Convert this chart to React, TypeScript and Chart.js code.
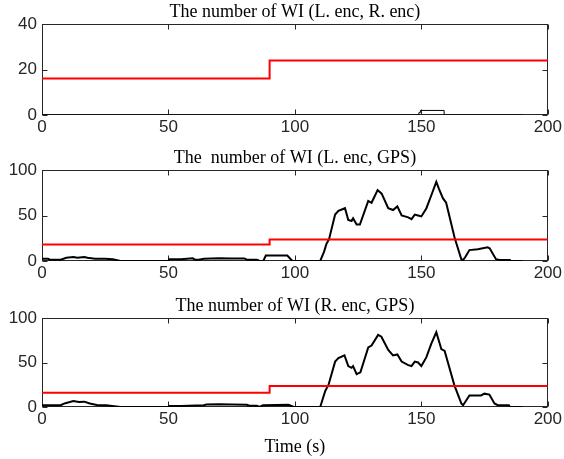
import React, { useEffect, useRef } from 'react';
import { Chart, registerables } from 'chart.js';

Chart.register(...registerables);

// ---------- data ----------
const xTickStep = 50;
const timeMax = 200;

// thresholds (red, stepped)
const thrTime = [0, 90, 200];
const thrLR = [16, 24, 24];
const thrLG = [18, 23.5, 23.5];
const thrRG = [16, 23.5, 23.5];

// number of WI (L. enc, R. enc)
const lrTime = [0, 149, 149.6, 159, 190];
const lrWI = [0, 1, 2, 0, 0];

// number of WI (L. enc, GPS)
const lgTime = [
  0, 2.4, 3, 7.4, 9.6, 12.4, 14, 16.7, 18, 21, 25, 28, 31, 50, 50.3, 55, 59.6, 60.5, 62, 64, 70, 75, 80, 81, 85, 86, 87.5,
  88.5, 97, 99, 110, 111.5, 112.5, 113.5, 115.9, 117.2, 119.8, 121.1, 122.4, 123, 124.4, 125.7, 129, 130.3, 132.7,
  134.3, 136.9, 138.8, 140.5, 142.2, 144.8, 146.1, 147.4, 148.7, 150, 152, 153.9, 155.9, 157, 158.5, 159.8, 163.1,
  165.8, 166.5, 167.5, 169, 172.3, 176.2, 177, 179.5, 181, 185, 185.5, 190,
];
const lgWI = [
  2.5, 2.5, 1.5, 1.5, 3.5, 4.4, 3.6, 4.4, 3.5, 2.5, 2.5, 2, 0, 0, 2, 2, 3, 1.5, 1.5, 2.5, 3, 2.8, 2.8, 1.5, 1.5, 0, 0,
  6, 6, 0, 0, 10, 19, 24, 51, 55, 58, 45, 44, 47, 40, 40, 66, 64, 78,
  74, 58, 56, 60, 50, 48, 46, 51, 50, 49, 58, 72, 87, 79, 69, 64, 26,
  2, 1, 5, 12, 13, 15, 14, 2, 1, 1, 0, 0,
];

// number of WI (R. enc, GPS)
const rgTime = [
  0, 7.4, 8.9, 12.4, 14.6, 16.7, 18.9, 21.7, 25.3, 31, 50, 50.3, 55, 58, 64, 65, 70, 75, 81, 82, 85, 86, 87.4, 97.4,
  99.6, 110, 112, 113.3, 115.9, 117.2, 119.6, 121.1, 122.4, 123, 124.4, 125.9, 129, 130.3, 132.9, 134.2, 136.9, 138.8,
  140.5, 142.2, 144.8, 146.1, 147.4, 148.7, 150, 152, 153.9, 155.9, 157.9, 159.2, 163.1, 165.8, 166.5, 169, 173.6,
  174.9, 176.9, 178.9, 180.2, 184.6, 185, 190,
];
const rgWI = [
  2, 2, 4, 6.8, 5.7, 6, 4, 2.3, 2, 0, 0, 1, 1, 1.5, 2, 2.8, 3, 2.8, 2.5, 1.5, 1.5, 0, 2, 2.5,
  0, 0, 18, 25, 51, 55, 58, 46, 44, 46, 37, 39, 67, 69, 81, 79, 64, 58,
  59, 51, 47, 46, 51, 50, 46, 56, 71, 84, 65, 63, 24, 4, 2, 13, 13,
  15, 14, 4, 2, 2, 0, 0,
];

const titles = [
  'The number of WI (L. enc, R. enc)',
  'The  number of WI (L. enc, GPS)',
  'The number of WI (R. enc, GPS)',
];
const yMaxes = [40, 100, 100];
const ySteps = [20, 50, 50];
const xAxisTitle = 'Time (s)';

// ---------- layout ----------
const W = 564;
const TITLE_H = 24;
const PLOT_LEFT = 42;
const PLOT_RIGHT = 549;
const plotTops = [24, 170, 318];
const plotBottoms = [115, 261, 407];
const xAxisH = [31, 31, 52];

const pts = (t: number[], v: number[]) => t.map((x, i) => ({ x, y: v[i] }));

const boxPlugin = {
  id: 'matlabBox',
  beforeDatasetsDraw(chart: any) {
    const { ctx, chartArea: a, scales } = chart;
    const L = Math.round(a.left) + 0.5;
    const R = Math.round(a.right) - 0.5;
    const T = Math.round(a.top) + 0.5;
    const B = Math.round(a.bottom) - 0.5;
    ctx.save();
    ctx.strokeStyle = '#262626';
    ctx.lineWidth = 1;
    ctx.strokeRect(L, T, R - L, B - T);
    const tl = 5;
    ctx.beginPath();
    for (const t of scales.x.ticks) {
      const px = Math.round(scales.x.getPixelForValue(t.value)) + 0.5;
      ctx.moveTo(px, B);
      ctx.lineTo(px, B - tl);
      ctx.moveTo(px, T);
      ctx.lineTo(px, T + tl);
    }
    for (const t of scales.y.ticks) {
      const py = Math.round(scales.y.getPixelForValue(t.value)) + 0.5;
      ctx.moveTo(L, py);
      ctx.lineTo(L + tl, py);
      ctx.moveTo(R, py);
      ctx.lineTo(R - tl, py);
    }
    ctx.stroke();
    ctx.restore();
  },
};

const blackSeries = [pts(lrTime, lrWI), pts(lgTime, lgWI), pts(rgTime, rgWI)];
const redSeries = [pts(thrTime, thrLR), pts(thrTime, thrLG), pts(thrTime, thrRG)];

export default function App() {
  const refs = [useRef<HTMLCanvasElement>(null), useRef<HTMLCanvasElement>(null), useRef<HTMLCanvasElement>(null)];

  useEffect(() => {
    const charts: Chart[] = [];
    for (let i = 0; i < 3; i++) {
      const canvas = refs[i].current;
      if (!canvas) continue;
      const last = i === 2;
      const xH = xAxisH[i];
      const chart = new Chart(canvas, {
        type: 'line',
        data: {
          datasets: [
            {
              data: redSeries[i],
              borderColor: '#ff0000',
              borderWidth: 2,
              pointRadius: 0,
              stepped: 'before',
              fill: false,
              order: 0,
            },
            {
              data: blackSeries[i],
              borderColor: '#000000',
              borderWidth: i === 0 ? 1 : 2,
              pointRadius: 0,
              stepped: i === 0 ? 'before' : false,
              tension: 0,
              fill: false,
              order: 1,
            },
          ],
        },
        options: {
          animation: false,
          responsive: false,
          maintainAspectRatio: false,
          events: [],
          layout: { padding: { left: 0, right: W - PLOT_RIGHT, top: 0, bottom: 0 } },
          plugins: {
            legend: { display: false },
            tooltip: { enabled: false },
            title: {
              display: true,
              text: titles[i],
              fullSize: false,
              color: '#000',
              font: { family: 'Liberation Serif', size: 18, weight: 'normal' },
              padding: { top: 1, bottom: TITLE_H - 21.6 - 1 },
            },
          },
          scales: {
            x: {
              type: 'linear',
              min: 0,
              max: timeMax,
              afterFit: (s: any) => {
                s.height = xH;
              },
              ticks: {
                stepSize: xTickStep,
                color: '#262626',
                font: { family: 'Liberation Sans', size: 17 },
                padding: 2,
                maxRotation: 0,
              },
              grid: { display: false, drawTicks: false },
              border: { display: false },
              title: {
                display: last,
                text: xAxisTitle,
                color: '#000',
                font: { family: 'Liberation Serif', size: 18 },
                padding: { top: 0, bottom: 1 },
              },
            },
            y: {
              type: 'linear',
              min: 0,
              max: yMaxes[i],
              afterFit: (s: any) => {
                s.width = PLOT_LEFT;
              },
              ticks: {
                stepSize: ySteps[i],
                color: '#262626',
                font: { family: 'Liberation Sans', size: 17 },
                padding: 5,
              },
              grid: { display: false, drawTicks: false },
              border: { display: false },
            },
          },
        },
        plugins: [boxPlugin],
      } as any);
      charts.push(chart);
    }
    return () => charts.forEach((c) => c.destroy());
  }, []);

  return (
    <div style={{ position: 'absolute', left: 0, top: 0, width: W, height: 459, background: '#fff' }}>
      {[0, 1, 2].map((i) => {
        const top = plotTops[i] - TITLE_H;
        const h = TITLE_H + (plotBottoms[i] - plotTops[i]) + xAxisH[i];
        return (
          <canvas
            key={i}
            ref={refs[i]}
            width={W}
            height={h}
            style={{ position: 'absolute', left: 0, top, width: W, height: h, display: 'block' }}
          />
        );
      })}
    </div>
  );
}
